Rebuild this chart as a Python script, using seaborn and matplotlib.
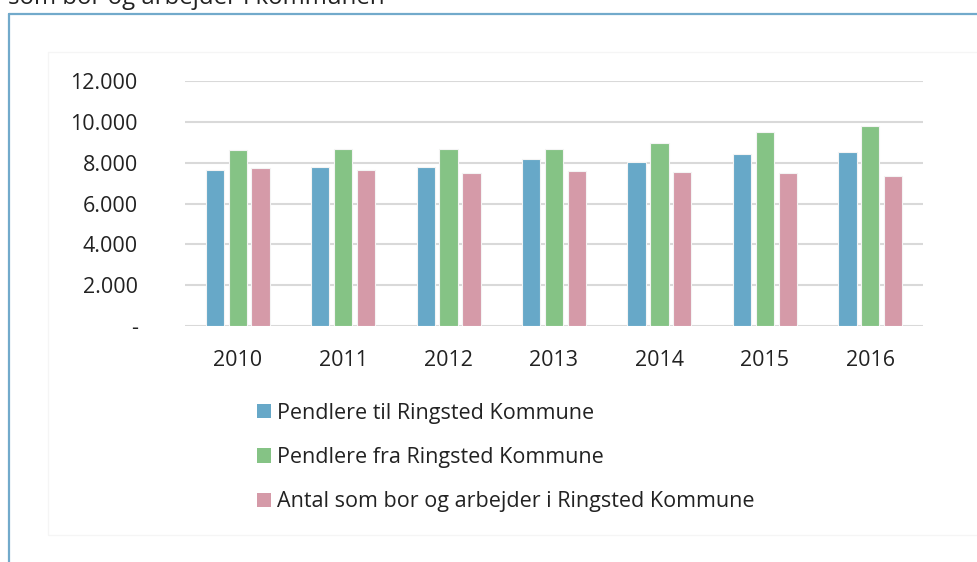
import matplotlib
matplotlib.use("Agg")
import matplotlib.pyplot as plt
from matplotlib.patches import Patch, Rectangle
from matplotlib.lines import Line2D
import seaborn as sns
import pandas as pd

years = ["2010", "2011", "2012", "2013", "2014", "2015", "2016"]
series_names = ["Pendlere til Ringsted Kommune",
                "Pendlere fra Ringsted Kommune",
                "Antal som bor og arbejder i Ringsted Kommune"]
pendlere_til = [7640, 7770, 7770, 8180, 8020, 8420, 8510]
pendlere_fra = [8600, 8680, 8650, 8650, 8980, 9500, 9810]
bor_arbejder = [7740, 7640, 7490, 7600, 7540, 7480, 7330]
colors = ["#67A8C8", "#85C385", "#D59AA8"]
ytick_vals = [0, 2000, 4000, 6000, 8000, 10000, 12000]
ytick_labels = ["-", "2.000", "4.000", "6.000", "8.000", "10.000", "12.000"]
top_text = "som bor og arbejder i kommunen"

rows = []
for name, vals in zip(series_names, [pendlere_til, pendlere_fra, bor_arbejder]):
    for y, v in zip(years, vals):
        rows.append({"year": y, "series": name, "value": v})
df = pd.DataFrame(rows)

sns.set_theme(style="white")
plt.rcParams["font.family"] = ["Open Sans", "DejaVu Sans"]

W, H = 977, 562
fig = plt.figure(figsize=(W / 100, H / 100), dpi=100)
fig.patch.set_facecolor("white")

# faint inner panel
fig.add_artist(Rectangle((47.5 / W, 1 - 534.5 / H), (W - 47) / W + 0.01, (534.5 - 52) / H,
                         transform=fig.transFigure, facecolor="none",
                         edgecolor="#F5F5F5", linewidth=1))
# blue frame
fig.add_artist(Line2D([8.5 / W, 8.5 / W], [0, 1 - 13.5 / H], transform=fig.transFigure,
                      color="#72AACB", linewidth=1.6))
fig.add_artist(Line2D([8.5 / W, 1], [1 - 13.5 / H, 1 - 13.5 / H], transform=fig.transFigure,
                      color="#72AACB", linewidth=1.6))
fig.text(8 / W, 1 - 4 / H, top_text, fontsize=17.3, color="#222222", va="baseline", ha="left")

ax = fig.add_axes([185 / W, 1 - 326 / H, (923 - 185) / W, (326 - 81) / H])
sns.barplot(data=df, x="year", y="value", hue="series", palette=colors,
            hue_order=series_names, order=years, width=0.65, gap=0.2,
            saturation=1, legend=False, ax=ax, edgecolor="#F4F4F4", linewidth=0.8)

ax.set_ylim(0, 12000)
ax.set_xlim(-0.5, 6.5)
ax.set_yticks(ytick_vals)
ax.set_yticklabels(ytick_labels)
ax.set_xlabel("")
ax.set_ylabel("")
ax.yaxis.grid(True, color="#D9D9D9", linewidth=1.5)
ax.set_axisbelow(True)
for s in ax.spines.values():
    s.set_visible(False)
ax.tick_params(axis="y", length=0, pad=34, labelsize=15.5, labelcolor="#222222")
ax.tick_params(axis="x", length=0, pad=17, labelsize=15.5, labelcolor="#222222")
ax.set_facecolor("none")

handles = [Patch(facecolor=c, edgecolor="none") for c in colors]
fig.legend(handles, series_names, loc="upper left",
           bbox_to_anchor=(246 / W, 1 - 392 / H), frameon=False,
           fontsize=15.5, handlelength=0.65, handleheight=0.65,
           handletextpad=0.3, labelspacing=1.08, borderpad=0, labelcolor="#222222")

fig.savefig("out.png", dpi=100)
